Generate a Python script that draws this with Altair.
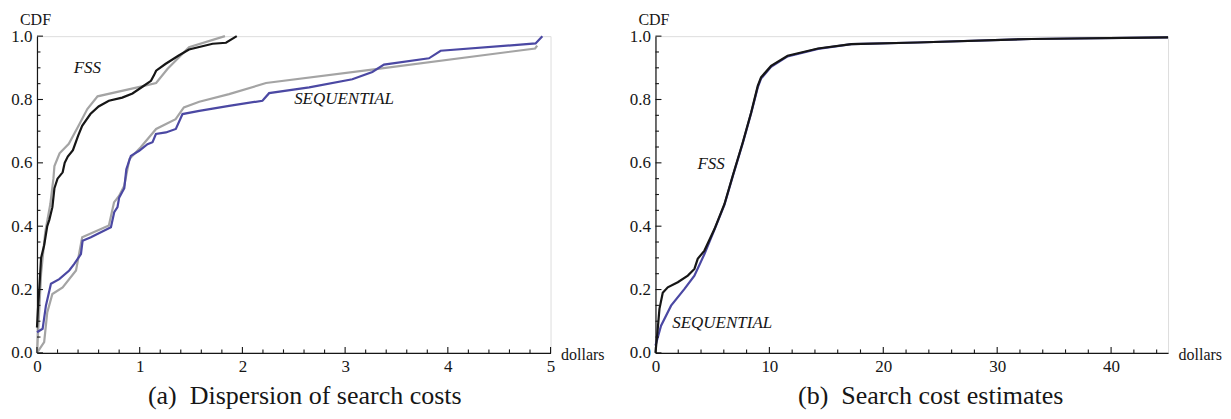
import altair as alt
import pandas as pd

SERIF = "Liberation Serif, Times New Roman, Times, serif"
INK = "#161616"
GRAY = "#a4a4a4"
BLUE = "#4b48a3"

# ---------------- Panel (a): Dispersion of search costs ----------------
a_fss_x = [0.0, 0.01, 0.02, 0.04, 0.07, 0.10, 0.12, 0.15, 0.17, 0.20, 0.25, 0.27, 0.30, 0.35,
           0.40, 0.44, 0.52, 0.60, 0.70, 0.83, 0.93, 1.03, 1.11, 1.14, 1.16, 1.25, 1.38, 1.48,
           1.71, 1.84, 1.945]
a_fss_y = [0.08, 0.14, 0.19, 0.30, 0.34, 0.40, 0.42, 0.46, 0.52, 0.55, 0.57, 0.60, 0.62, 0.64,
           0.685, 0.717, 0.754, 0.778, 0.796, 0.806, 0.819, 0.841, 0.859, 0.877, 0.891, 0.912,
           0.939, 0.958, 0.976, 0.979, 1.0]

a_fssfit_x = [0.0, 0.02, 0.04, 0.08, 0.13, 0.16, 0.17, 0.22, 0.31, 0.41, 0.49, 0.59, 1.0, 1.16,
              1.27, 1.48, 1.83]
a_fssfit_y = [0.0, 0.12, 0.25, 0.38, 0.47, 0.55, 0.59, 0.63, 0.66, 0.72, 0.77, 0.81, 0.84, 0.852,
              0.896, 0.965, 1.0]

a_seq_x = [0.0, 0.055, 0.087, 0.136, 0.217, 0.314, 0.363, 0.428, 0.444, 0.525, 0.72, 0.752,
           0.784, 0.80, 0.85, 0.87, 0.914, 0.995, 1.076, 1.125, 1.158, 1.255, 1.352, 1.417, 1.58,
           1.87, 2.195, 2.26, 2.65, 3.07, 3.265, 3.378, 3.816, 3.93, 4.854, 4.92]
a_seq_y = [0.065, 0.076, 0.149, 0.218, 0.233, 0.26, 0.281, 0.312, 0.354, 0.365, 0.397, 0.444,
           0.46, 0.49, 0.52, 0.58, 0.622, 0.638, 0.659, 0.665, 0.691, 0.696, 0.707, 0.754, 0.764,
           0.78, 0.796, 0.82, 0.838, 0.864, 0.887, 0.91, 0.93, 0.954, 0.977, 1.0]

a_seqfit_x = [0.0, 0.07, 0.10, 0.15, 0.25, 0.38, 0.44, 0.70, 0.75, 0.80, 0.85, 0.90, 1.01, 1.16,
              1.35, 1.43, 1.58, 1.87, 2.23, 3.3, 4.85, 4.87]
a_seqfit_y = [0.0, 0.034, 0.128, 0.186, 0.207, 0.26, 0.365, 0.402, 0.475, 0.496, 0.528, 0.612,
              0.649, 0.707, 0.738, 0.775, 0.793, 0.817, 0.852, 0.896, 0.961, 0.97]

a_label_text = ["FSS", "SEQUENTIAL"]
a_label_x = [0.49, 2.99]
a_label_y = [0.899, 0.801]

# ---------------- Panel (b): Search cost estimates ----------------
b_fss_x = [0.0, 0.2, 0.35, 0.64, 1.08, 1.96, 2.84, 3.42, 3.71, 4.3, 5.18, 6.06, 6.79, 7.67, 8.4,
           8.98, 9.27, 10.15, 11.6, 14.27, 17.2, 23.0, 33.0, 45.0]
b_fss_y = [0.0, 0.076, 0.139, 0.19, 0.207, 0.223, 0.244, 0.265, 0.297, 0.323, 0.391, 0.47, 0.56,
           0.665, 0.759, 0.843, 0.87, 0.906, 0.938, 0.961, 0.975, 0.98, 0.991, 0.996]

b_seq_x = [0.0, 0.49, 1.37, 2.55, 3.42, 4.3, 5.18, 6.06, 6.79, 7.67, 8.4, 8.98, 9.27, 10.15,
           11.6, 14.27, 17.2, 23.0, 33.0, 45.0]
b_seq_y = [0.023, 0.086, 0.149, 0.202, 0.244, 0.312, 0.389, 0.468, 0.558, 0.663, 0.757, 0.838,
           0.866, 0.903, 0.936, 0.96, 0.975, 0.98, 0.991, 0.996]

b_label_text = ["FSS", "SEQUENTIAL"]
b_label_x = [4.88, 5.86]
b_label_y = [0.596, 0.095]

# axis tick positions
a_x_major = [0, 1, 2, 3, 4, 5]
a_x_minor = [round(i * 0.2, 2) for i in range(26) if i % 5]
b_x_major = [0, 10, 20, 30, 40]
b_x_minor = [i * 2 for i in range(23) if i % 5]
y_major = [0.0, 0.2, 0.4, 0.6, 0.8, 1.0]
y_minor = [round(i * 0.05, 2) for i in range(21) if i % 4]

H = 317
MAJ = 6
MIN = 3.5


def df(xs, ys, name):
    return pd.DataFrame({"x": xs, "y": ys, "s": name, "o": list(range(len(xs)))})


def panel(W, xdom, xmaj, xmin, fits, blue, black, lab_t, lab_x, lab_y, title, dx):
    xs = alt.Scale(domain=xdom, nice=False, zero=False)
    ys = alt.Scale(domain=[0, 1], nice=False, zero=False)

    xax = alt.Axis(values=xmaj, format="d", ticks=False, tickSize=0, domainColor=INK,
                   domainWidth=1.2, labelFont=SERIF, labelFontSize=17, labelColor=INK,
                   labelPadding=6, labelFlush=False, grid=False, title="dollars",
                   titleFont=SERIF, titleFontSize=16, titleFontWeight="normal",
                   titleColor=INK, titleX=W + 10, titleY=7, titleAlign="left",
                   titleBaseline="alphabetic", titleAngle=0)
    yax = alt.Axis(values=y_major, format=".1f", ticks=False, tickSize=0, domainColor=INK,
                   domainWidth=1.2, labelFont=SERIF, labelFontSize=17, labelColor=INK,
                   labelPadding=5, labelFlush=False, grid=False, title="CDF",
                   titleFont=SERIF, titleFontSize=16, titleFontWeight="normal",
                   titleColor=INK, titleX=-2, titleY=-12, titleAlign="center",
                   titleBaseline="alphabetic", titleAngle=0)

    def X(f="x"):
        return alt.X(f + ":Q", scale=xs, axis=xax)

    def Y(f="y"):
        return alt.Y(f + ":Q", scale=ys, axis=yax)

    layers = [alt.Chart(fits).mark_line(color=GRAY, strokeWidth=2.2).encode(
        x=X(), y=Y(), detail="s:N", order="o:Q")]
    if blue is not None:
        layers.append(alt.Chart(blue).mark_line(color=BLUE, strokeWidth=2.2).encode(
            x=X(), y=Y(), order="o:Q"))
    layers.append(alt.Chart(black).mark_line(color=INK, strokeWidth=2.2).encode(
        x=X(), y=Y(), order="o:Q"))
    labels = pd.DataFrame({"t": lab_t, "x": lab_x, "y": lab_y})
    layers.append(alt.Chart(labels).mark_text(font=SERIF, fontStyle="italic", fontSize=17,
                                              color=INK).encode(x=X(), y=Y(), text="t:N"))

    # inward-pointing tick marks, drawn as short rules positioned by the scales
    for vals, size in ((xmaj, MAJ), (xmin, MIN)):
        layers.append(alt.Chart(pd.DataFrame({"v": vals})).mark_rule(
            color=INK, strokeWidth=1.1).encode(
            x=X("v"), y=alt.value(H), y2=alt.value(H - size)))
    for vals, size in ((y_major, MAJ), (y_minor, MIN)):
        layers.append(alt.Chart(pd.DataFrame({"v": vals})).mark_rule(
            color=INK, strokeWidth=1.1).encode(
            y=Y("v"), x=alt.value(0), x2=alt.value(size)))

    return alt.layer(*layers).properties(
        width=W, height=H,
        title=alt.TitleParams(title, orient="bottom", font=SERIF, fontSize=26,
                              fontWeight="normal", color=INK, offset=8, dx=dx,
                              anchor="middle"))


fits_a = pd.concat([df(a_fssfit_x, a_fssfit_y, "fssfit"), df(a_seqfit_x, a_seqfit_y, "seqfit")])
panel_a = panel(514, [0, 5], a_x_major, a_x_minor, fits_a, df(a_seq_x, a_seq_y, "seq"),
                df(a_fss_x, a_fss_y, "fss"), a_label_text, a_label_x, a_label_y,
                "(a)\u00a0\u00a0Dispersion of search costs", 11)

fits_b = df(b_seq_x, b_seq_y, "seqb").iloc[0:0]
panel_b = panel(513, [0, 45], b_x_major, b_x_minor, fits_b, df(b_seq_x, b_seq_y, "seq"),
                df(b_fss_x, b_fss_y, "fss"), b_label_text, b_label_x, b_label_y,
                "(b)\u00a0\u00a0Search cost estimates", 19)

chart = alt.hconcat(panel_a, panel_b, spacing=105, bounds="flush").properties(
    padding={"left": 2, "top": 2, "right": 0, "bottom": 0}
).configure_view(stroke=None).configure(background="white")

chart.save("out.html", embed_options={"renderer": "svg", "actions": False})
